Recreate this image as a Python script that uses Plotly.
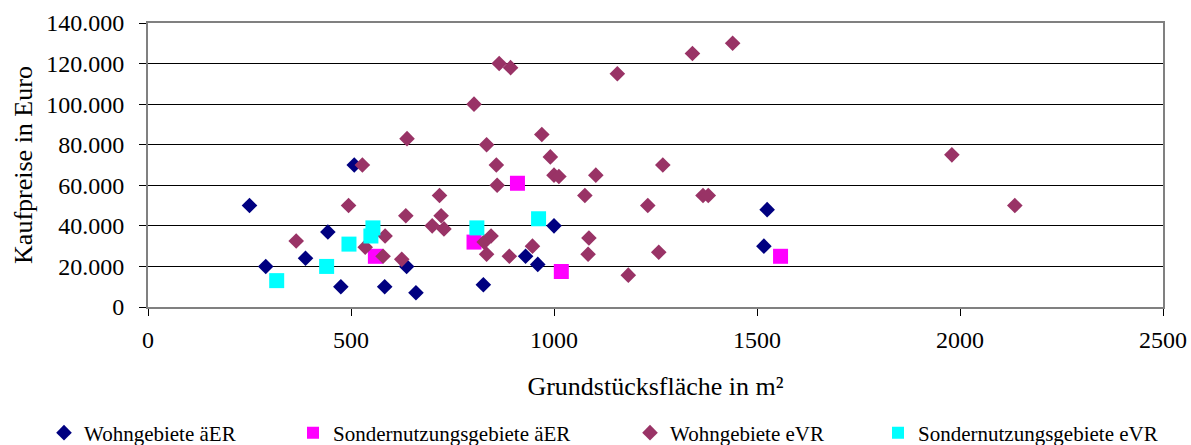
import plotly.graph_objects as go

# Wohngebiete äER
wg_aer_flaeche = [250, 290, 388, 443, 475, 508, 583, 637, 660, 826, 930, 960, 1000, 1517, 1525]
wg_aer_preis = [50000, 20000, 24000, 37000, 10000, 70000, 10000, 20000, 7000, 11000, 25000, 21000, 40000, 30000, 48000]

# Sondernutzungsgebiete äER
sn_aer_flaeche = [560, 803, 910, 1018, 1558]
sn_aer_preis = [25000, 32000, 61000, 17500, 25000]

# Wohngebiete eVR
wg_evr_flaeche = [365, 494, 528, 535, 584, 579, 625, 635, 638, 700, 718, 722, 729, 803,
                  828, 834, 834, 845, 858, 860, 865, 890, 893, 947, 970, 991, 1000, 1012,
                  1076, 1084, 1086, 1103, 1156, 1183, 1231, 1258, 1268, 1341, 1367, 1380,
                  1440, 1980, 2135]
wg_evr_preis = [32500, 50000, 70000, 29500, 35000, 25000, 23500, 45000, 83000, 40000, 55000,
                45000, 38500, 100000, 32000, 80000, 26000, 35000, 70000, 60000, 120000, 25000,
                118000, 30000, 85000, 74000, 65000, 64300, 55000, 26000, 34000, 65000, 115000,
                15700, 50000, 27000, 70000, 125000, 55000, 55000, 130000, 75000, 50000]

# Sondernutzungsgebiete eVR
sn_evr_flaeche = [317, 440, 495, 549, 554, 810, 962]
sn_evr_preis = [13000, 20000, 31000, 35000, 39000, 39000, 43500]

x_ticks = [0, 500, 1000, 1500, 2000, 2500]
y_ticks = [0, 20000, 40000, 60000, 80000, 100000, 120000, 140000]

FONT = "Liberation Serif"

series = [
    ("Wohngebiete äER", wg_aer_flaeche, wg_aer_preis, "#000080", "diamond", 12, "legend"),
    ("Sondernutzungsgebiete äER", sn_aer_flaeche, sn_aer_preis, "#FF00FF", "square", 15, "legend2"),
    ("Wohngebiete eVR", wg_evr_flaeche, wg_evr_preis, "#993366", "diamond", 12, "legend3"),
    ("Sondernutzungsgebiete eVR", sn_evr_flaeche, sn_evr_preis, "#00FFFF", "square", 15, "legend4"),
]

fig = go.Figure()
for name, xs, ys, color, symbol, size, leg in series:
    fig.add_trace(go.Scatter(
        x=xs, y=ys, mode="markers", name=name, legend=leg,
        marker=dict(symbol=symbol, size=size, color=color, line=dict(width=0)),
    ))

L, R, T, B = 148, 28, 23, 138
W, H = 1191, 445
pw, ph = W - L - R, H - T - B


def px_to_paper(px, py):
    return (px - L) / pw, (H - B - py) / ph


legend_px = [44, 293, 630, 878]
legend_cfg = {}
for i, lx in enumerate(legend_px):
    key = "legend" if i == 0 else f"legend{i + 1}"
    x, y = px_to_paper(lx, 433)
    legend_cfg[key] = dict(
        x=x, y=y, xanchor="left", yanchor="middle", orientation="h",
        font=dict(family=FONT, size=21, color="black"),
        bgcolor="rgba(0,0,0,0)", itemsizing="constant",
    )

fig.update_layout(
    width=W, height=H,
    margin=dict(l=L, r=R, t=T, b=B, autoexpand=False),
    paper_bgcolor="white", plot_bgcolor="white",
    separators=",.",
    font=dict(family=FONT, color="black", size=24),
    showlegend=True,
    **legend_cfg,
)

fig.update_xaxes(
    range=[0, 2500], tickvals=x_ticks, tickformat="d",
    showgrid=False, zeroline=False,
    showline=True, linecolor="#808080", linewidth=2, mirror=True,
    ticks="outside", ticklen=7, tickcolor="black", tickwidth=1,
    ticklabelstandoff=3,
    tickfont=dict(family=FONT, size=24, color="black"),
    title=dict(text="Grundstücksfläche in m²", font=dict(family=FONT, size=26), standoff=25),
    automargin=False,
)
fig.update_yaxes(
    range=[0, 140000], tickvals=y_ticks, tickformat=",d",
    showgrid=True, gridcolor="black", gridwidth=1, zeroline=False,
    showline=True, linecolor="#808080", linewidth=2, mirror=True,
    ticks="outside", ticklen=7, tickcolor="black", tickwidth=1,
    ticklabelstandoff=10,
    tickfont=dict(family=FONT, size=24, color="black"),
    title=dict(text="Kaufpreise in Euro", font=dict(family=FONT, size=26), standoff=6),
    automargin=False,
)

fig.write_html("out.html")
